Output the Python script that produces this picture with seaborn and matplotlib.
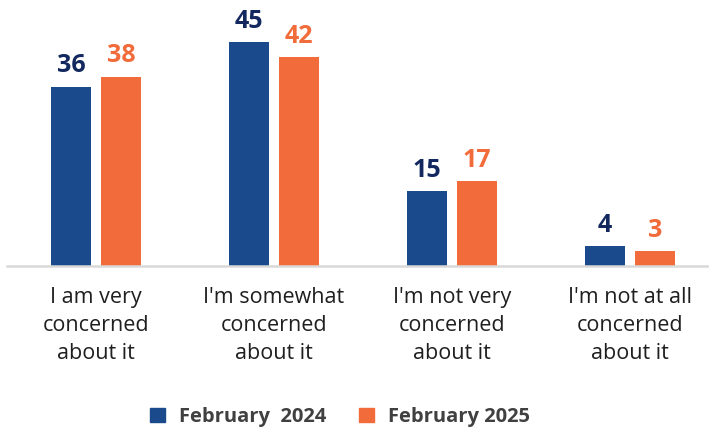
import matplotlib
matplotlib.use("Agg")
import matplotlib.pyplot as plt
import seaborn as sns
import pandas as pd

categories = [
    "I am very\nconcerned\nabout it",
    "I'm somewhat\nconcerned\nabout it",
    "I'm not very\nconcerned\nabout it",
    "I'm not at all\nconcerned\nabout it",
]
series_names = ["February  2024", "February 2025"]
values_2024 = [36, 45, 15, 4]
values_2025 = [38, 42, 17, 3]

bar_colors = ["#1B4A8C", "#F26B3A"]
label_colors = ["#13285E", "#F26B3A"]

df = pd.DataFrame({
    "category": categories * 2,
    "series": [series_names[0]] * 4 + [series_names[1]] * 4,
    "value": values_2024 + values_2025,
})

sns.set_style("white")
plt.rcParams["font.family"] = ["Open Sans", "DejaVu Sans"]

fig = plt.figure(figsize=(7.09, 4.32), dpi=100)
ax = fig.add_axes([7 / 709, 166 / 432, 712 / 709, 266 / 432])

sns.barplot(data=df, x="category", y="value", hue="series",
            palette=bar_colors, width=0.562, gap=0.2, ax=ax,
            legend=False, saturation=1, edgecolor="none")

ax.set_xlim(-0.5, 3.5)
ax.set_ylim(0, 266 / 4.98)

for container, col in zip(ax.containers, label_colors):
    ax.bar_label(container, labels=[f"{v:.0f}" for v in container.datavalues],
                 padding=6, color=col, fontsize=18, fontweight="bold")

for side in ["top", "right", "left"]:
    ax.spines[side].set_visible(False)
ax.spines["bottom"].set_color("#D9D9D9")
ax.spines["bottom"].set_linewidth(1.8)
ax.set_yticks([])
ax.set_xlabel("")
ax.set_ylabel("")
ax.tick_params(axis="x", length=0, pad=15, labelsize=15.5, labelcolor="#1F1F1F")
for lbl in ax.get_xticklabels():
    lbl.set_linespacing(1.44)

handles = [plt.Rectangle((0, 0), 1, 1, color=c) for c in bar_colors]
fig.legend(handles, series_names, loc="center", bbox_to_anchor=(340 / 709, 1 - 417 / 432),
           ncol=2, frameon=False, handlelength=0.75, handleheight=0.75,
           columnspacing=1.6, handletextpad=0.7,
           prop={"size": 14.5, "weight": "bold"}, labelcolor="#404040")

fig.savefig("out.png", dpi=100)
